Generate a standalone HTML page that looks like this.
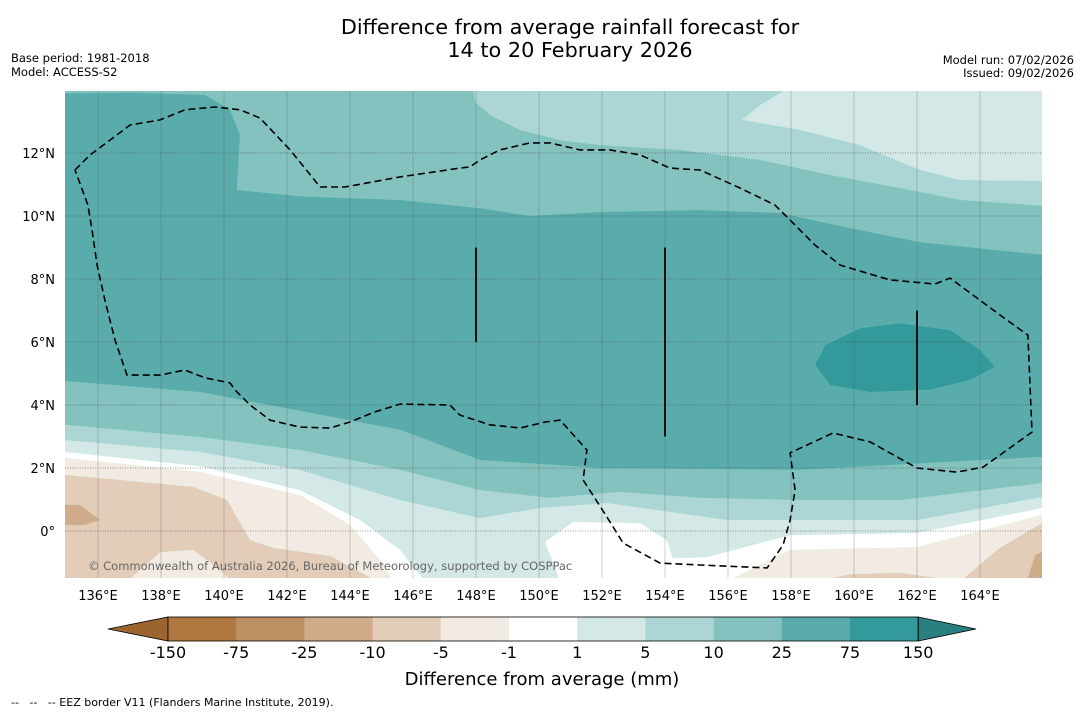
<!DOCTYPE html>
<html><head><meta charset="utf-8">
<style>
body{margin:0;background:#fff;width:1085px;height:713px;overflow:hidden;font-family:"DejaVu Sans","Liberation Sans",sans-serif;}
svg{position:absolute;left:0;top:0}
</style></head><body>
<svg id="c" width="1085" height="713">
<text x="570" y="34" text-anchor="middle" font-size="20.8">Difference from average rainfall forecast for</text>
<text x="570" y="57" text-anchor="middle" font-size="20.8">14 to 20 February 2026</text>
<text x="11" y="62" font-size="11.5">Base period: 1981-2018</text>
<text x="11" y="76" font-size="11.5">Model: ACCESS-S2</text>
<text x="1074" y="64" font-size="11.5" text-anchor="end">Model run: 07/02/2026</text>
<text x="1074" y="77" font-size="11.5" text-anchor="end">Issued: 09/02/2026</text>
<defs><clipPath id="mc"><rect x="65" y="91" width="977" height="487"/></clipPath></defs>
<g id="map" clip-path="url(#mc)"></g>
<g id="axes"></g>
<g id="cbar"></g>
<text x="542" y="685" text-anchor="middle" font-size="18">Difference from average (mm)</text>
<text x="11" y="706" font-size="11" xml:space="preserve">--   --   -- EEZ border V11 (Flanders Marine Institute, 2019).</text>
</svg>
<script>
const lonTicks=[136,138,140,142,144,146,148,150,152,154,156,158,160,162,164];
const latTicks=[0,2,4,6,8,10,12];
const levels=["-150","-75","-25","-10","-5","-1","1","5","10","25","75","150"];
const levelColors=["#b07840","#be8f63","#cfab8a","#e3cdb8","#f2ebe4","#ffffff","#d4e8e7","#acd6d5","#84c2c0","#5aabab","#33999a"];
const ge_m5=[[134.95,1.78],[139.02,1.4],[140.1,0.98],[140.83,-0.29],[141.56,-0.54],[143.37,-0.79],[144.86,-1.6],[158.83,-1.6],[159.87,-1.37],[161.46,-1.33],[163.37,-1.6],[164.63,-0.54],[165.97,0.25],[166.1,14.1],[134.9,14.1]];
const ge_m1=[[134.95,2.32],[139.24,1.87],[142.41,1.14],[144.0,0.19],[144.95,-0.92],[145.37,-1.6],[155.97,-1.6],[157.97,-0.6],[162.0,-0.51],[165.97,0.51],[166.1,14.1],[134.9,14.1]];
const ge_1=[[134.95,2.51],[139.24,2.06],[142.41,1.3],[144.32,0.35],[145.59,-0.6],[146.38,-1.6],[150.67,-1.6],[150.19,-0.35],[151.08,0.29],[153.21,0.25],[154.06,-0.29],[154.25,-0.86],[155.33,-0.83],[157.97,-0.13],[162.0,-0.06],[165.97,0.73],[166.1,14.1],[134.9,14.1]];
const ge_5=[[134.95,2.89],[139.24,2.51],[142.41,1.94],[145.59,0.98],[148.13,0.41],[150.03,0.73],[152.16,0.89],[155.97,0.35],[162.0,0.35],[165.97,1.08],[166.1,14.1],[134.9,14.1]];
const ge_10=[[134.95,3.37],[139.24,2.98],[142.41,2.57],[145.59,1.94],[148.13,1.3],[150.35,1.05],[152.57,1.24],[155.11,1.05],[158.29,0.98],[161.46,0.98],[165.97,1.52],[166.1,14.1],[134.9,14.1]];
const ge_25=[[134.95,4.76],[139.24,4.41],[145.59,3.21],[148.13,2.25],[151.94,2.0],[158.29,1.94],[165.97,2.35],[166.1,14.1],[134.9,14.1]];
const lt_25n=[[134.9,14.1],[134.9,13.9],[137,13.92],[139.4,13.85],[140.19,13.37],[140.51,12.57],[140.41,10.83],[142.41,10.63],[145.59,10.51],[148.13,10.25],[149.71,10.0],[151.94,10.13],[155.11,10.19],[157.65,10.1],[159.87,9.62],[162.1,9.17],[166.1,8.76],[166.1,14.1]];
const lt_10n=[[147.9,14.1],[147.97,13.62],[148.44,13.21],[149.4,12.73],[150.67,12.41],[151.94,12.25],[154.48,12.1],[157.02,11.78],[159.24,11.3],[161.46,10.89],[163.37,10.51],[166.1,10.32],[166.1,14.1]];
const lt_5n=[[157.97,14.1],[157.02,13.52],[156.44,13.05],[158.29,12.73],[160.19,12.25],[162.1,11.46],[163.37,11.14],[166.1,11.11],[166.1,14.1]];
const ge_75=[[158.76,5.27],[159.08,5.9],[160.19,6.44],[161.46,6.6],[163.05,6.38],[164.0,5.75],[164.48,5.21],[163.68,4.79],[162.41,4.48],[160.51,4.41],[159.24,4.63]];
const blob_m5=[[136.92,-1.6],[137.97,-0.67],[139.02,-0.6],[139.46,-0.92],[140.29,-1.6]];
const blob_m25a=[[134.9,0.83],[135.43,0.83],[136.06,0.35],[135.59,0.19],[134.9,0.19]];
const blob_m25b=[[165.49,-1.6],[165.75,-0.76],[166.1,-0.6],[166.1,-1.6]];
const eez=[[135.27,11.46],[135.75,11.94],[136.38,12.41],[137.02,12.89],[137.97,13.05],[138.76,13.37],[139.71,13.46],[140.51,13.37],[141.14,13.11],[142.1,12.1],[143.05,10.92],[143.84,10.92],[145.59,11.24],[147.49,11.52],[147.81,11.56],[148.13,11.78],[148.76,12.1],[149.71,12.32],[150.35,12.32],[151.3,12.1],[152.25,12.1],[153.21,11.94],[154.16,11.52],[155.11,11.46],[156.38,10.89],[157.49,10.35],[157.97,9.87],[158.76,9.08],[159.56,8.44],[161.14,7.97],[162.57,7.84],[163.05,8.03],[164.63,6.86],[165.52,6.22],[165.65,3.14],[164.1,2.03],[163.27,1.87],[162.0,2.0],[160.51,2.83],[159.33,3.11],[157.97,2.48],[158.13,1.3],[157.97,0.35],[157.75,-0.44],[157.24,-1.17],[155.11,-1.08],[153.84,-1.02],[152.67,-0.38],[152.16,0.44],[151.4,1.62],[151.52,2.57],[150.67,3.52],[150.19,3.46],[149.4,3.27],[148.44,3.37],[147.49,3.68],[147.17,4.0],[145.59,4.03],[144.79,3.78],[144.0,3.46],[143.37,3.27],[142.41,3.3],[141.46,3.52],[140.83,4.0],[140.35,4.48],[140.19,4.7],[139.4,4.86],[138.76,5.11],[137.97,4.95],[136.92,4.95],[136.54,6.06],[136.22,7.33],[135.97,8.44],[135.81,9.56],[135.68,10.35],[135.27,11.46]];
const boundaryLines=[[148,9,6],[154,9,3],[162,7,4]];

const NS="http://www.w3.org/2000/svg";
const X=lon=>98+(lon-136)*31.5;
const Y=lat=>531-lat*31.5;
function mk(tag,parent,attrs){const e=document.createElementNS(NS,tag);for(const k in attrs)e.setAttribute(k,attrs[k]);parent.appendChild(e);return e;}
const map=document.getElementById('map');
const pts=a=>a.map(p=>X(p[0]).toFixed(1)+","+Y(p[1]).toFixed(1)).join(" ");
let base=mk('rect',map,{x:65,y:91,width:977,height:487,fill:levelColors[3]});


const layers=[[ge_m5,4,'contour-minus5-to-minus1'],[blob_m5,4,'contour-minus5-blob'],[ge_m1,5,'contour-minus1-to-1'],[ge_1,6,'contour-1-to-5'],[ge_5,7,'contour-5-to-10'],[ge_10,8,'contour-10-to-25'],[ge_25,9,'contour-25-to-75'],[lt_25n,8,'contour-north-10-to-25'],[lt_10n,7,'contour-north-5-to-10'],[lt_5n,6,'contour-north-1-to-5'],[ge_75,10,'contour-75-to-150'],[blob_m25a,2,'contour-minus25-west'],[blob_m25b,2,'contour-minus25-east']];
layers.forEach(l=>{
 const p=mk('polygon',map,{points:pts(l[0]),fill:levelColors[l[1]],stroke:'#9fb',"stroke-opacity":0.15,"stroke-width":0.6});
 
 
});
lonTicks.forEach(lon=>{
 const g=mk('line',map,{x1:X(lon),x2:X(lon),y1:91,y2:578,stroke:'#555',"stroke-opacity":0.35,"stroke-width":0.8});
 
 
});
latTicks.forEach(lat=>{
 const g=mk('line',map,{x1:65,x2:1042,y1:Y(lat),y2:Y(lat),stroke:'#444',"stroke-opacity":0.55,"stroke-width":1,"stroke-dasharray":"1,1.5"});
 
 
});
boundaryLines.forEach(b=>{
 const l=mk('line',map,{x1:X(b[0]),x2:X(b[0]),y1:Y(b[1]),y2:Y(b[2]),stroke:'#111',"stroke-width":2});
 
 
});
const ez=mk('polyline',map,{points:pts(eez),fill:'none',stroke:'#000',"stroke-width":1.6,"stroke-dasharray":"7,4"});


const cp=mk('text',map,{x:88,y:570,"font-size":11.5,fill:'#666'});
cp.textContent="© Commonwealth of Australia 2026, Bureau of Meteorology, supported by COSPPac";


const axes=document.getElementById('axes');
lonTicks.forEach(lon=>{
 const t=mk('text',axes,{x:X(lon),y:600,"font-size":13,"text-anchor":"middle"});
 t.textContent=lon+"°E";
 
 
});
latTicks.forEach(lat=>{
 const t=mk('text',axes,{x:55,y:Y(lat)+5,"font-size":13,"text-anchor":"end"});
 t.textContent=lat===0?"0°":lat+"°N";
 
 
});
const cb=document.getElementById('cbar');
const cx0=168,cw=68.2,cy=617,ch=24;
const lt=mk('polygon',cb,{points:`108,${cy+ch/2} ${cx0},${cy} ${cx0},${cy+ch}`,fill:'#9c6530',stroke:'#000',"stroke-width":0.8});


levelColors.forEach((c,i)=>{
 const r=mk('rect',cb,{x:cx0+i*cw,y:cy,width:cw+0.5,height:ch,fill:c});
 
 
});
const last=cx0+10*cw;
const rt=mk('polygon',cb,{points:`${last+cw},${cy} 976,${cy+ch/2} ${last+cw},${cy+ch}`,fill:'#2a7f80',stroke:'#000',"stroke-width":0.8});


const ol=mk('rect',cb,{x:cx0,y:cy,width:last+cw-cx0,height:ch,fill:'none',stroke:'#000',"stroke-width":0.8});


levels.forEach((lv,i)=>{
 const t=mk('text',cb,{x:cx0+i*cw,y:658,"font-size":16,"text-anchor":"middle"});
 t.textContent=lv;
 
 
});
</script>
</body></html>
